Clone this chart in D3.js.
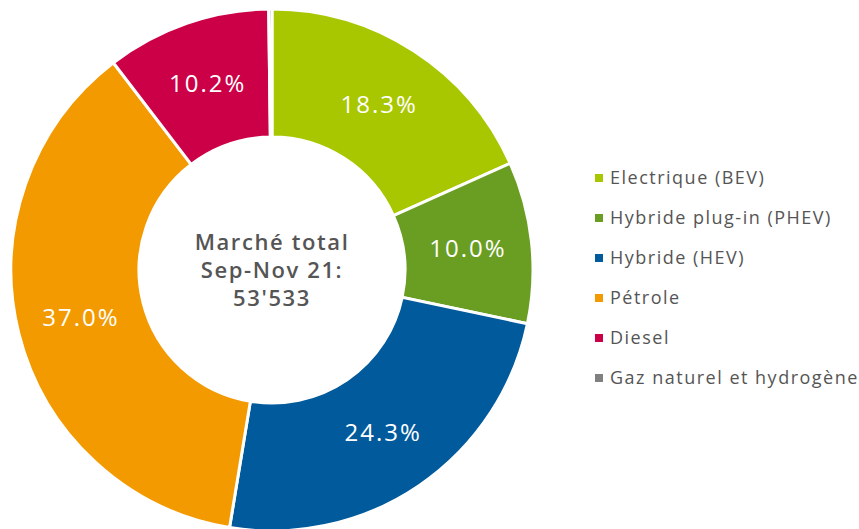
<!DOCTYPE html>
<html><head><meta charset="utf-8">
<script src="https://cdn.jsdelivr.net/npm/d3@7"></script>
<style>body{margin:0;background:#fff;} svg{display:block;}</style>
</head><body>
<svg id="chart" width="859" height="529"></svg>
<script>
const categories = ["Electrique (BEV)", "Hybride plug-in (PHEV)", "Hybride (HEV)", "Pétrole", "Diesel", "Gaz naturel et hydrogène"];
const values = [18.3, 10.0, 24.3, 37.0, 10.2, 0.2];
const labels = ["18.3%", "10.0%", "24.3%", "37.0%", "10.2%", ""];
const colors = ["#a8c700", "#6a9e23", "#005a9c", "#f39a00", "#cc0047", "#808080"];
const centerLines = ["Marché total", "Sep-Nov 21:", "53'533"];

const svg = d3.select("#chart");
const cx = 272, cy = 270, rOuter = 261, rInner = 133;
const data = categories.map((c, i) => ({cat: c, value: values[i], label: labels[i], color: colors[i]}));
const pie = d3.pie().value(d => d.value).sort(null);
const arc = d3.arc().innerRadius(rInner).outerRadius(rOuter);
const g = svg.append("g").attr("transform", `translate(${cx},${cy})`);
const arcs = pie(data);
g.selectAll("path").data(arcs).join("path")
  .attr("d", arc).attr("fill", d => d.data.color)
  .attr("stroke", "#fff").attr("stroke-width", 3).attr("stroke-linejoin", "miter");
g.selectAll("text.lbl").data(arcs).join("text").attr("class", "lbl")
  .attr("transform", d => `translate(${arc.centroid(d)})`)
  .attr("text-anchor", "middle").attr("dy", "0.35em")
  .attr("fill", "#fff").attr("font-family", "Open Sans, sans-serif").attr("font-size", 24)
  .attr("letter-spacing", 2)
  .text(d => d.data.label);
const ct = g.append("g").attr("font-family", "Open Sans, sans-serif").attr("font-weight", 600)
  .attr("font-size", 22).attr("fill", "#555").attr("letter-spacing", 1.6).attr("text-anchor", "middle");
ct.selectAll("text").data(centerLines).join("text")
  .attr("x", 0).attr("y", (d, i) => -28 + i * 28).attr("dy", "0.35em").text(d => d);

const leg = svg.append("g").attr("transform", "translate(595,178)");
const rows = leg.selectAll("g").data(data).join("g").attr("transform", (d, i) => `translate(0,${i * 40})`);
rows.append("rect").attr("x", 0).attr("y", -4).attr("width", 8).attr("height", 8).attr("fill", d => d.color);
rows.append("text").attr("x", 15).attr("dy", "0.35em")
  .attr("font-family", "Open Sans, sans-serif").attr("font-size", 18).attr("fill", "#555")
  .attr("letter-spacing", 1.5)
  .text(d => d.cat);
</script>
</body></html>
